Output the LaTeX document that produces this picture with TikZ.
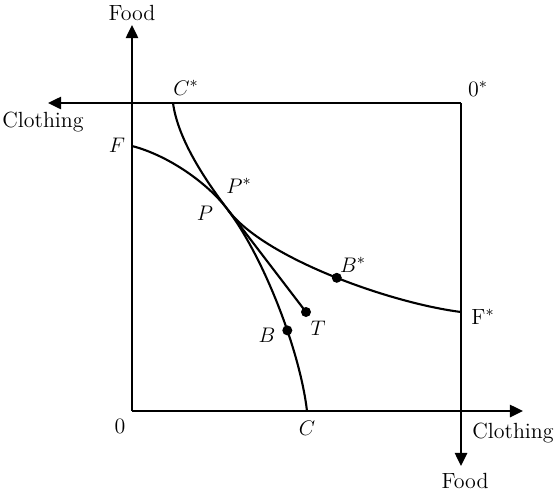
\documentclass[tikz,border=0pt]{standalone}
\usepackage{tikz}
\usepackage{amsmath}
\usetikzlibrary{arrows.meta}

\begin{document}
\begin{tikzpicture}[x={(0.02cm,0cm)}, y={(0cm,-0.02cm)}, font=\fontsize{12.5}{14}\selectfont,
  axis/.style={line width=1.2pt,-{Triangle[length=7.5pt,width=7pt]}},
  curve/.style={line width=1.2pt},
  dot/.style={circle,fill,inner sep=0pt,minimum size=0.2cm}]
  \useasboundingbox (0,0) rectangle (560,494);
  % Corners
  \coordinate (O) at (132,411);
  \coordinate (Ostar) at (461,103);
  \coordinate (Top) at (132,25);
  \coordinate (Right) at (523,411);
  \coordinate (Left) at (48,103);
  \coordinate (Down) at (461,466);
  % Axes
  \draw[axis] (O) -- (Top);
  \draw[axis] (O) -- (Right);
  \draw[axis] (Ostar) -- (Left);
  \draw[axis] (Ostar) -- (Down);
  % Curves
  \coordinate (F) at (132,146);
  \coordinate (C) at (307,411);
  \coordinate (Cs) at (173,103);
  \coordinate (Fs) at (461,312);
  \coordinate (P) at (228,210);
  \draw[curve] (F) .. controls (167,155) and (207,182) .. (P)
    .. controls (264,258) and (300,351) .. (C) coordinate[pos=0.61] (Bpt);
  \draw[curve] (Cs) .. controls (178,140) and (206,181) .. (P)
    .. controls (264,258) and (390,303) .. (Fs) coordinate[pos=0.52] (Bspt);
  \coordinate (Tpt) at (306,312);
  \draw[curve] (P) -- (Tpt);
  % Dots
  \node[dot] (B) at (Bpt) {};
  \node[dot] (Bs) at (Bspt) {};
  \node[dot] (T) at (Tpt) {};
  % Labels
  \node (foodtop) at (132,13) {Food};
  \node (clothleft) at (43,122) {Clothing};
  \node (foodbot) at (465,481) {Food};
  \node (clothright) at (513,433) {Clothing};
  \node (lO) at (120,426) {0};
  \node (lOs) at (478,89) {0$^*$};
  \node (lF) at (117,145) {$F$};
  \node (lC) at (307,428) {$C$};
  \node (lCs) at (186,88) {$C^*$};
  \node (lFs) at (483,317) {F$^*$};
  \node (lP) at (205,213) {$P$};
  \node (lPs) at (239,186) {$P^*$};
  \node (lBs) at (353,265) {$B^*$};
  \node (lT) at (318,328) {$T$};
  \node (lB) at (267,335) {$B$};
\end{tikzpicture}
\end{document}
